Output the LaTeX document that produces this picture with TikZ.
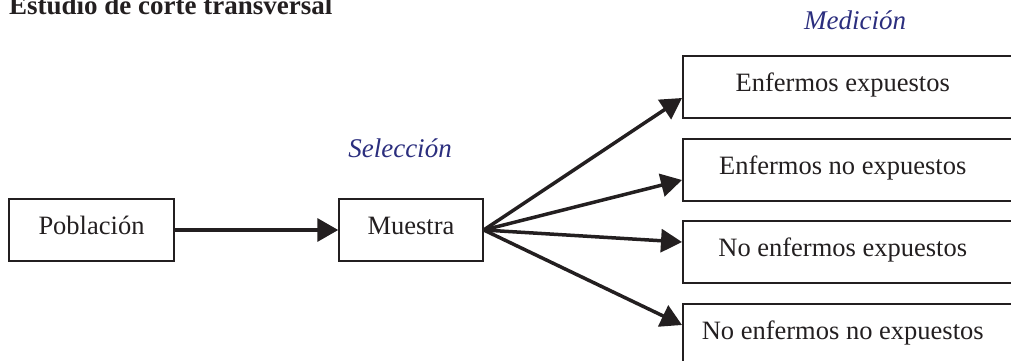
\documentclass[tikz,border=0pt]{standalone}
\usepackage{fontspec}
\setmainfont{Liberation Serif}
\usetikzlibrary{arrows.meta,calc}
\definecolor{ink}{HTML}{231F20}
\definecolor{navy}{HTML}{2B2E7E}
\begin{document}
\begin{tikzpicture}[x=1pt,y=-1pt,
  box/.style={draw=ink, line width=1.5pt, inner xsep=0pt, inner ysep=0pt,
    text height=35pt, text depth=27pt, font=\fontsize{26.5}{30}\selectfont, text=ink},
  rbox/.style={box, minimum width=340pt, anchor=west},
  arr/.style={draw=ink, line width=3.5pt, -{Triangle[length=21pt,width=23pt]}},
  lab/.style={font=\fontsize{27}{32}\selectfont\itshape, text=navy, inner sep=0pt, anchor=base}]
\useasboundingbox (0,0) rectangle (1011,361);
\clip (0,0) rectangle (1011,361);
\node[font=\fontsize{27}{32}\selectfont\bfseries, text=ink, anchor=base west, inner sep=0pt] (t) at (9,15) {Estudio de corte transversal};
\node[box, minimum width=165pt] (p) at (91.5,230) {Población};
\node[box, minimum width=144pt] (m) at (411,230) {Muestra};
\node[rbox] (e1) at (682,87) {\hspace*{-20pt}Enfermos expuestos};
\node[rbox] (e2) at (682,170) {\hspace*{-20pt}Enfermos no expuestos};
\node[rbox] (e3) at (682,252) {\hspace*{-20pt}No enfermos expuestos};
\node[rbox] (e4) at (682,335) {\hspace*{-20pt}No enfermos no expuestos};
\node[lab] (sel) at (400,157) {Selección};
\node[lab] (med) at (855,30) {Medición};
\draw[arr] (p.east) -- (m.west);
\draw[arr] (m.east) -- ($(e1.west)+(0,11)$);
\draw[arr] (m.east) -- ($(e2.west)+(0,10)$);
\draw[arr] (m.east) -- ($(e3.west)+(0,-10)$);
\draw[arr] (m.east) -- ($(e4.west)+(0,-10)$);
\end{tikzpicture}
\end{document}
